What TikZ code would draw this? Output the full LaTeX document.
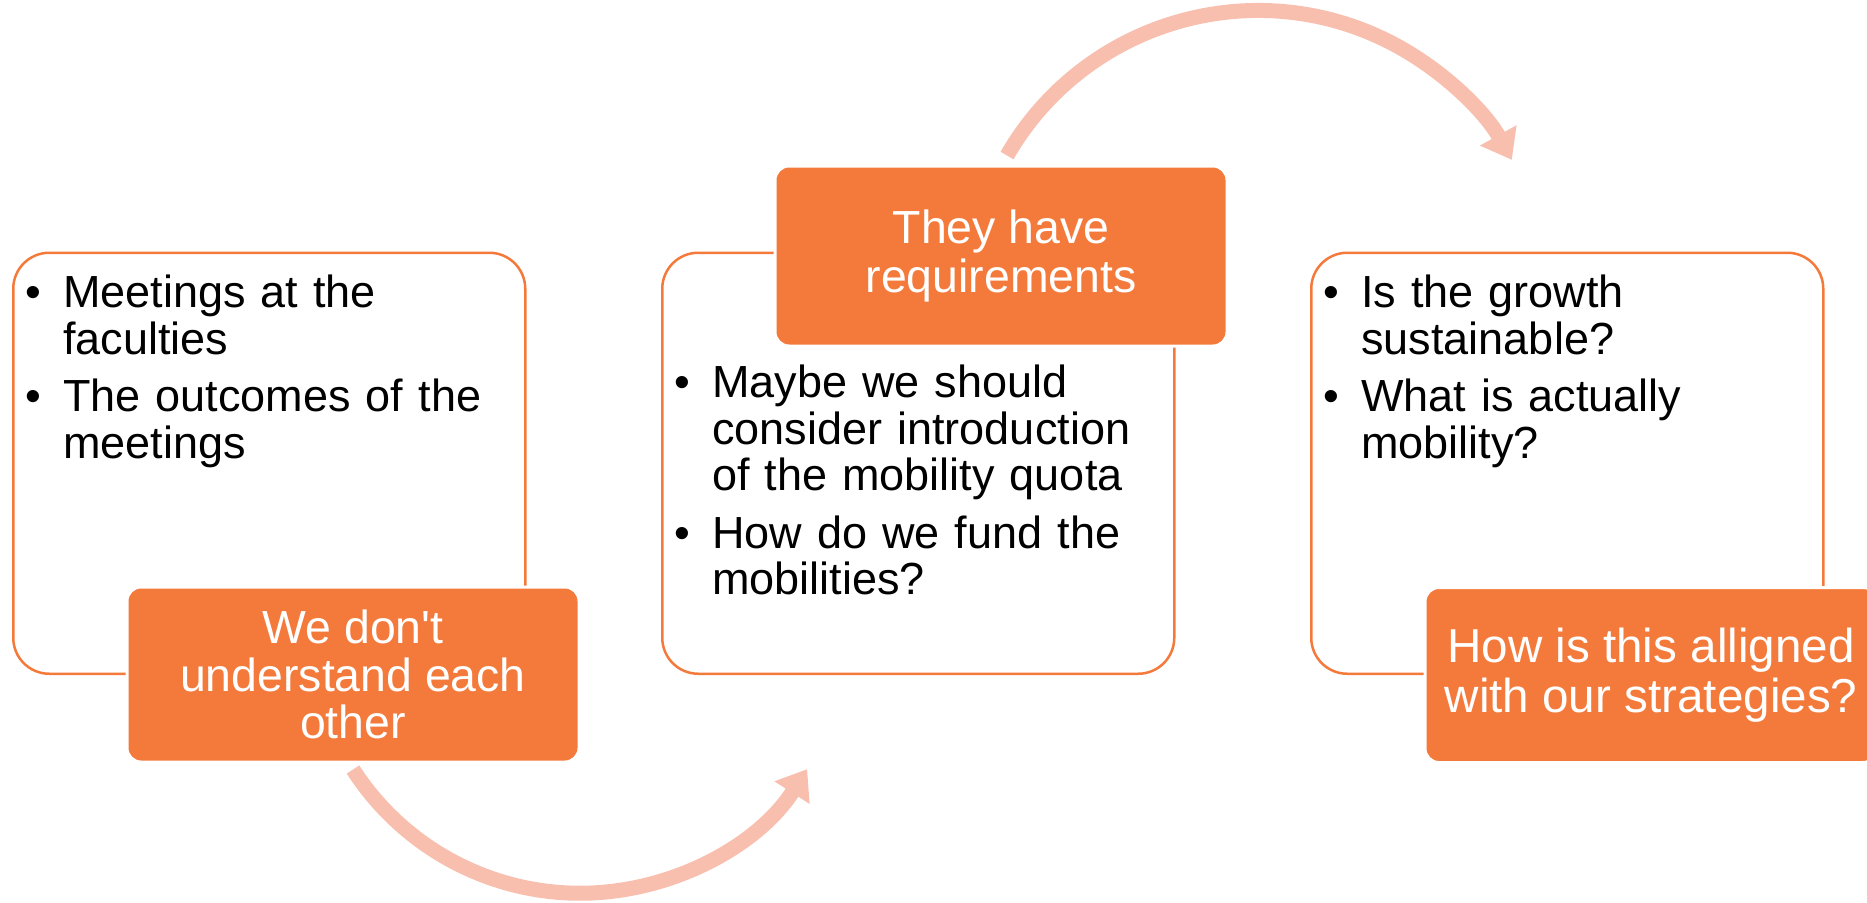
\documentclass[tikz,border=0pt]{standalone}
\usepackage{fontspec}
\setmainfont{Liberation Sans}
\newfontfamily\arial{Liberation Sans}
\usetikzlibrary{arrows.meta}
\definecolor{accent}{RGB}{244,122,60}
\definecolor{pale}{RGB}{248,191,175}
\newcommand{\bul}[1]{\par\hangindent=19pt\hangafter=1\noindent\makebox[19pt][l]{\textbullet}#1\par}
\begin{document}
\begin{tikzpicture}[x=0.5pt,y=0.5pt,
  card/.style={draw=accent, line width=1.25pt, rounded corners=18pt, minimum width=256pt, minimum height=210.5pt, anchor=south west},
  tag/.style={fill=accent, draw=white, line width=1.5pt, rounded corners=7pt, minimum width=226pt, minimum height=87.5pt, text=white, align=center, font=\arial\fontsize{23.2}{23.8}\selectfont},
  list/.style={anchor=north west, text width=240pt, inner sep=0pt, font=\arial\fontsize{22.5}{23.25}\selectfont\setlength{\parskip}{5.5pt}},
  swoop/.style={draw=pale, line width=7.5pt, -{Triangle[width=20pt,length=14pt]}}]
\useasboundingbox (0,0) rectangle (1867,902);

% first step
\node[card] (meet) at (12,227) {};
\node[list] (meetlist) at (25,652) {\bul{Meetings at the\newline faculties}\bul{The outcomes of the\newline meetings}};
\node[tag] (talk) at (353,227.5) {We don't\\understand each\\other};

% second step
\node[card] (quota) at (661,227) {};
\node[list] (quotalist) at (674,562) {\bul{Maybe we should\newline consider introduction\newline of the mobility quota}\bul{How do we fund the\newline mobilities?}};
\node[tag, minimum height=90pt, font=\arial\fontsize{23.2}{24.5}\selectfont] (req) at (1001,646) {They have\\requirements};

% third step
\node[card] (grow) at (1310,227) {};
\node[list] (growlist) at (1323,652) {\bul{Is the growth\newline sustainable?}\bul{What is actually\newline mobility?}};
\node[tag, font=\arial\fontsize{23.8}{25}\selectfont] (strat) at (1651,227) {How is this alligned\\with our strategies?};

% arrows
\coordinate (a1) at ([yshift=-3pt]talk.south);
\coordinate (a2) at ([shift={(6,9)}]req.north);
\draw[swoop] (a1) arc[start angle=212.8, end angle=327.3, radius=135pt];
\draw[swoop] (a2) arc[start angle=150, end angle=29, radius=145pt];
\end{tikzpicture}
\end{document}
